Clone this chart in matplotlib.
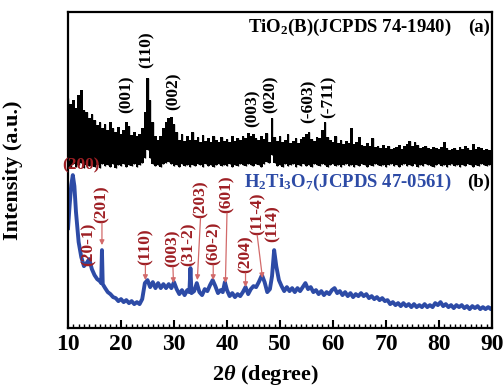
import numpy as np
import matplotlib
matplotlib.use("Agg")
import matplotlib.pyplot as plt
from matplotlib.ticker import MultipleLocator

plt.rcParams['font.family'] = 'Liberation Serif'
plt.rcParams['font.weight'] = 'bold'
plt.rcParams['mathtext.fontset'] = 'custom'
plt.rcParams['mathtext.rm'] = 'Liberation Serif:bold'
plt.rcParams['mathtext.it'] = 'Liberation Serif:italic:bold'
plt.rcParams['mathtext.bf'] = 'Liberation Serif:bold'

# ---------------- data: (a) TiO2(B), noisy band (upper / lower envelope) ----------------
two_theta_a = np.arange(10, 90.01, 0.5)
top_a = [230, 224, 228, 220, 233, 238, 218, 216, 210, 214,
         208, 203, 206, 200, 204, 198, 206, 200, 196, 201,
         194, 198, 206, 202, 193, 196, 192, 194, 200, 216,
         250, 228, 206, 192, 188, 192, 200, 206, 210, 211,
         204, 196, 188, 194, 187, 192, 188, 196, 188, 191,
         186, 193, 187, 190, 186, 192, 188, 186, 191, 187,
         189, 186, 192, 187, 190, 188, 192, 190, 195, 192,
         194, 190, 188, 192, 189, 195, 186, 210, 191, 187,
         192, 186, 188, 194, 185, 187, 190, 185, 189, 191,
         194, 196, 189, 187, 191, 190, 198, 206, 191, 188,
         186, 192, 185, 188, 184, 187, 185, 200, 184, 186,
         191, 183, 182, 185, 182, 190, 181, 182, 180, 183,
         180, 182, 179, 180, 181, 183, 179, 182, 184, 187,
         182, 186, 183, 180, 181, 182, 180, 179, 181, 180,
         179, 181, 186, 180, 178, 179, 180, 178, 181, 179,
         182, 180, 178, 184, 179, 181, 180, 178, 179, 178,
         178]
bot_a = [163, 160, 164, 161, 163, 165, 160, 163, 162, 164,
         161, 163, 160, 164, 162, 163, 161, 164, 160, 163,
         162, 164, 161, 163, 162, 164, 161, 163, 165, 170,
         178, 170, 164, 162, 163, 161, 164, 165, 166, 164,
         162, 163, 161, 164, 162, 163, 161, 163, 162, 164,
         163, 161, 164, 162, 163, 161, 163, 164, 162, 163,
         162, 164, 161, 163, 162, 164, 163, 162, 164, 163,
         162, 164, 163, 161, 164, 166, 165, 173, 165, 162,
         163, 161, 164, 162, 163, 164, 161, 163, 162, 164,
         162, 163, 161, 164, 163, 162, 164, 163, 161, 163,
         164, 162, 163, 161, 163, 164, 162, 163, 161, 163,
         162, 164, 163, 161, 163, 162, 164, 163, 162, 163,
         161, 163, 164, 162, 163, 161, 163, 164, 162, 163,
         162, 164, 161, 163, 162, 164, 163, 162, 161, 163,
         164, 162, 163, 161, 163, 164, 162, 163, 161, 163,
         162, 164, 163, 161, 163, 162, 164, 163, 162, 163,
         163]

# ---------------- data: (b) H2Ti3O7 ----------------
two_theta_b = [10.0, 10.3, 10.6, 10.9, 11.2, 11.5, 12.0, 12.5, 13.0, 13.5, 14.0, 14.5,
               15.0, 15.5, 16.0, 16.25, 16.4, 16.55, 17.0, 17.5, 18.0, 18.5, 19.0, 19.5,
               20.0, 20.5, 21.0, 21.5, 22.0, 22.5, 23.0, 23.5, 24.0, 24.5, 25.0, 25.5,
               26.0, 26.5, 27.0, 27.5, 28.0, 28.5, 29.0, 29.5, 30.0, 30.5, 31.0, 31.5,
               32.0, 32.5, 32.9, 33.1, 33.3, 33.8, 34.3, 34.8, 35.3, 35.8, 36.3, 36.8,
               37.3, 37.8, 38.3, 38.8, 39.2, 39.6, 40.0, 40.5, 41.0, 41.5, 42.0, 42.5,
               43.0, 43.5, 44.0, 44.5, 45.0, 45.5, 46.0, 46.6, 47.1, 47.6, 48.1, 48.5,
               48.9, 49.3, 49.8, 50.3, 50.8, 51.3, 51.8, 52.3, 52.8, 53.3, 53.8, 54.3,
               54.8, 55.3, 55.8, 56.3, 56.8, 57.3, 57.8, 58.3, 58.8, 59.3, 59.8, 60.3,
               60.8, 61.3, 61.8, 62.3, 62.8, 63.3, 63.8, 64.3, 64.8, 65.3, 65.8, 66.3,
               66.8, 67.3, 67.8, 68.3, 68.8, 69.3, 69.8, 70.3, 70.8, 71.3, 71.8, 72.3,
               72.8, 73.3, 73.8, 74.3, 74.8, 75.3, 75.8, 76.3, 76.8, 77.3, 77.8, 78.3,
               78.8, 79.3, 79.8, 80.3, 80.8, 81.3, 81.8, 82.3, 82.8, 83.3, 83.8, 84.3,
               84.8, 85.3, 85.8, 86.3, 86.8, 87.3, 87.8, 88.3, 88.8, 89.3, 89.8, 90.0]
intensity_b = [100, 123, 143, 153, 142, 116, 86, 71, 62, 65, 69, 59,
               53, 49, 47, 45, 78, 44, 40, 36, 34, 31, 30, 27,
               29, 26, 28, 25, 27, 24, 26, 24, 29, 45, 48, 41,
               46, 40, 45, 40, 44, 40, 44, 40, 46, 39, 34, 38,
               33, 38, 36, 60, 35, 37, 45, 36, 33, 39, 37, 43,
               48, 42, 35, 38, 36, 46, 38, 32, 35, 31, 34, 32,
               36, 41, 34, 39, 42, 41, 46, 53, 46, 36, 39, 52,
               78, 62, 48, 42, 37, 41, 37, 40, 36, 40, 37, 41,
               45, 39, 41, 36, 38, 34, 37, 33, 36, 34, 38, 40,
               35, 37, 33, 36, 32, 35, 31, 34, 32, 35, 32, 34,
               30, 32, 29, 31, 28, 30, 27, 28, 24, 26, 23, 25,
               22, 25, 22, 24, 21, 24, 21, 23, 21, 24, 21, 23,
               21, 25, 23, 26, 22, 24, 21, 23, 20, 23, 21, 23,
               20, 22, 19, 22, 20, 22, 19, 21, 19, 21, 19, 20]

# peak labels (a)
labels_a = ['(001)', '(110)', '(002)', '(003)', '(020)', '(-603)', '(-711)']
label_a_x = [21.1, 24.9, 29.9, 44.8, 48.2, 55.4, 59.2]
label_a_y = [215, 260, 218, 201, 215, 205, 210]

# peak labels (b): text position (bottom of rotated text) and arrow tip
labels_b = ['(20-1)', '(201)', '(110)', '(003)', '(31-2)', '(203)', '(60-2)',
            '(601)', '(204)', '(11-4)', '(114)']
label_b_x = [13.8, 16.4, 24.6, 29.8, 32.7, 35.0, 37.4, 40.0, 43.5, 45.7, 48.6]
label_b_y = [62, 105, 63, 61, 62, 110, 63, 115, 55, 93, 86]
arrow_b_x = [None, 16.4, 24.6, 29.9, None, 34.4, 37.4, 39.7, 43.5, 46.7, None]
arrow_b_y = [None, 83, 48, 45, None, 48, 48, 45, 41, 50, None]

BLUE = '#2d4ba6'
DARKRED = '#9e1f24'
ARROWRED = '#d26a6a'

fig = plt.figure(figsize=(5.04, 3.92), dpi=100)
ax = fig.add_axes([0.135, 0.163, 0.841, 0.806])

ax.fill_between(two_theta_a, bot_a, top_a, step='mid', color='black', lw=0)
ax.vlines(two_theta_a, bot_a, top_a, color='black', lw=1.0)
ax.plot(two_theta_b, intensity_b, color=BLUE, lw=2.8)

ax.set_xlim(10, 90)
ax.set_ylim(0, 316)

for name, x, y in zip(labels_a, label_a_x, label_a_y):
    ax.text(x, y, name, rotation=90, ha='center', va='bottom', fontsize=12.5,
            fontweight='bold', color='black')

for name, x, y, ax_, ay_ in zip(labels_b, label_b_x, label_b_y, arrow_b_x, arrow_b_y):
    ax.text(x, y, name, rotation=90, ha='center', va='bottom', fontsize=12.5,
            fontweight='bold', color=DARKRED)
    if ax_ is not None:
        ax.annotate('', xy=(ax_, ay_), xytext=(x, y),
                    arrowprops=dict(arrowstyle='-|>', color=ARROWRED, lw=0.9,
                                    mutation_scale=7, shrinkA=0, shrinkB=0))

ax.text(12.5, 163, '(200)', ha='center', va='center', fontsize=12.5,
        fontweight='bold', color=DARKRED)

ax.text(82.3, 301, 'TiO$_2$(B)(JCPDS 74-1940)', ha='right', va='center',
        fontsize=13.5, fontweight='bold', color='black')
ax.text(89.6, 301, '(a)', ha='right', va='center', fontsize=13.5,
        fontweight='bold', color='black')
ax.text(82.3, 146, 'H$_2$Ti$_3$O$_7$(JCPDS 47-0561)', ha='right', va='center',
        fontsize=13.5, fontweight='bold', color=BLUE)
ax.text(89.6, 146, '(b)', ha='right', va='center', fontsize=13.5,
        fontweight='bold', color='black')

ax.xaxis.set_major_locator(MultipleLocator(10))
ax.xaxis.set_minor_locator(MultipleLocator(1))
ax.tick_params(axis='x', which='major', direction='in', length=6, width=1.5,
               labelsize=17, pad=4)
ax.tick_params(axis='x', which='minor', direction='in', length=3, width=1.0)
ax.set_yticks([])
for s in ax.spines.values():
    s.set_linewidth(1.6)
for lab in ax.get_xticklabels():
    lab.set_fontweight('bold')

ax.set_xlabel(r'2$\theta$ (degree)', fontsize=16, fontweight='bold')
ax.xaxis.set_label_coords((265 - 68) / 423, -0.112)
ax.set_ylabel('Intensity (a.u.)', fontsize=16, fontweight='bold')
ax.yaxis.set_label_coords(-0.106, 0.5)

fig.savefig('out.png', dpi=100)
